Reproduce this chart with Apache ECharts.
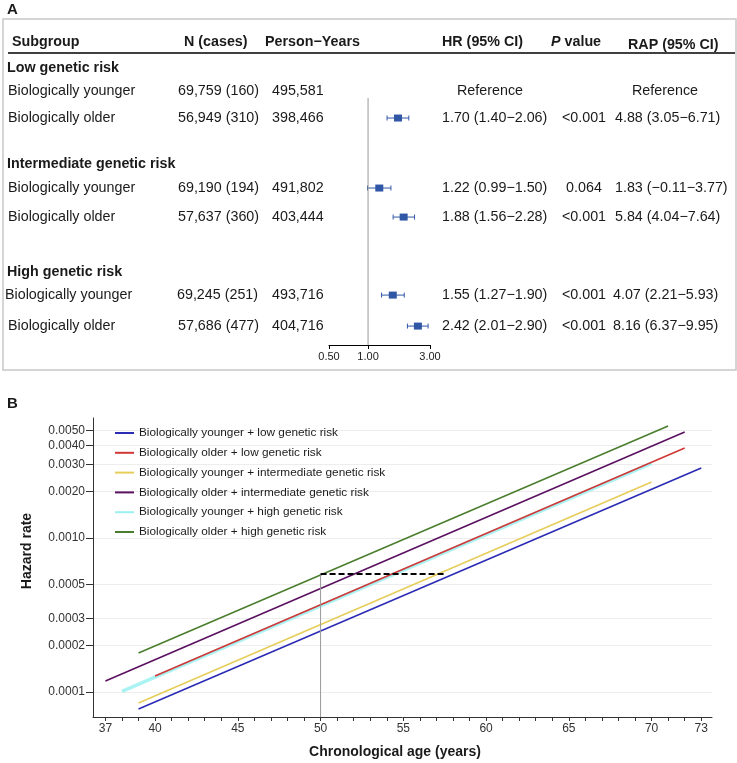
<!DOCTYPE html>
<html>
<head>
<meta charset="utf-8">
<script src="https://cdn.jsdelivr.net/npm/echarts@6/dist/echarts.min.js"></script>
<style>
html,body{margin:0;padding:0;background:#fff;}
#c{width:737px;height:763px;}
</style>
</head>
<body>
<div id="c"></div>
<script>
// ---------- Panel A data ----------
const groupNames = ['Low genetic risk', 'Intermediate genetic risk', 'High genetic risk'];
const rowLabels = ['Biologically younger', 'Biologically older', 'Biologically younger', 'Biologically older', 'Biologically younger', 'Biologically older'];
const nCases = ['69,759 (160)', '56,949 (310)', '69,190 (194)', '57,637 (360)', '69,245 (251)', '57,686 (477)'];
const personYears = ['495,581', '398,466', '491,802', '403,444', '493,716', '404,716'];
const hr = [null, 1.70, 1.22, 1.88, 1.55, 2.42];
const hrLow = [null, 1.40, 0.99, 1.56, 1.27, 2.01];
const hrHigh = [null, 2.06, 1.50, 2.28, 1.90, 2.90];
const pValues = ['', '<0.001', '0.064', '<0.001', '<0.001', '<0.001'];
const rap = [null, 4.88, 1.83, 5.84, 4.07, 8.16];
const rapLow = [null, 3.05, -0.11, 4.04, 2.21, 6.37];
const rapHigh = [null, 6.71, 3.77, 7.64, 5.93, 9.95];
const forestTicks = [0.5, 1, 3];

// ---------- Panel B data ----------
const seriesNames = [
  'Biologically younger + low genetic risk',
  'Biologically older + low genetic risk',
  'Biologically younger + intermediate genetic risk',
  'Biologically older + intermediate genetic risk',
  'Biologically younger + high genetic risk',
  'Biologically older + high genetic risk'
];
const ageStart = [39, 40, 39, 37, 38, 39];
const ageEnd = [73, 72, 70, 72, 70, 71];
const hazardStart = [7.76e-5, 1.27e-4, 8.49e-5, 1.18e-4, 1.01e-4, 1.79e-4];
const hazardEnd = [2.85e-3, 3.84e-3, 2.31e-3, 4.88e-3, 3.05e-3, 5.33e-3];
const refAge = 50;
const matchAge = 57.6;
const refHazard = 5.83e-4;
const yTickValues = [0.0001, 0.0002, 0.0003, 0.0005, 0.0010, 0.0020, 0.0030, 0.0040, 0.0050];
const xLabelValues = [37, 40, 45, 50, 55, 60, 65, 70, 73];

// ---------- layout / style ----------
const FONT = '"Liberation Sans", Arial, sans-serif';
const colors = ['#2b2bb5', '#d03838', '#e6cd5a', '#5a1160', '#9cf0f0', '#4b7d2e'];
const widths = [1.6, 1.6, 1.6, 1.6, 3.5, 1.6];
const yMinLog = -4.162, yMaxLog = -2.221;
const groupRowUnit = [1.0, 4.69, 8.85];
const dataRowUnit = [1.885, 2.923, 5.615, 6.731, 9.731, 10.923];
const rowIndent = [8, 8, 8, 8, 5, 8];
const colX = {sub: 8, n: 178, py: 272, hr: 442, p: 584, rap: 615, hrRef: 490, rapRef: 665};
const forestColor = '#3057a6';

const chart = echarts.init(document.getElementById('c'), null, {renderer: 'canvas'});

const lineSeries = seriesNames.map((name, i) => ({
  name: name,
  type: 'line',
  xAxisIndex: 0, yAxisIndex: 0,
  symbol: 'none',
  z: i === 4 ? 1 : 3,
  lineStyle: {color: colors[i], width: widths[i], opacity: i === 4 ? 0.85 : 1},
  itemStyle: {color: colors[i]},
  data: [[ageStart[i], Math.log10(hazardStart[i])], [ageEnd[i], Math.log10(hazardEnd[i])]]
}));

const forestData = [];
hr.forEach((v, i) => {
  if (v != null) forestData.push([Math.log(v), Math.log(hrLow[i]), Math.log(hrHigh[i]), dataRowUnit[i]]);
});

const fmtNum = v => (v < 0 ? '\u2212' + Math.abs(v).toFixed(2) : v.toFixed(2));
const ciText = (v, lo, hi) => fmtNum(v) + ' (' + fmtNum(lo) + '\u2212' + fmtNum(hi) + ')';

const option = {
  animation: false,
  backgroundColor: '#fff',
  textStyle: {fontFamily: FONT},
  legend: {
    data: seriesNames.map((n, i) => ({name: n, itemStyle: {color: colors[i]}})),
    orient: 'vertical',
    left: 110, top: 422,
    icon: 'rect',
    itemWidth: 19, itemHeight: 2, itemGap: 7.8,
    textStyle: {fontSize: 11.8, lineHeight: 12, color: '#1a1a1a', fontFamily: FONT}
  },
  grid: [
    {left: 93, right: 25, top: 418, bottom: 46},
    {left: 329, width: 101, top: 42, height: 303}
  ],
  xAxis: [
    {
      type: 'value', gridIndex: 0, min: 36.25, max: 73.65,
      axisLine: {onZero: false, lineStyle: {color: '#333', width: 1}},
      axisTick: {customValues: Array.from({length: 37}, (_, k) => 37 + k), length: 4, lineStyle: {color: '#333'}},
      axisLabel: {customValues: xLabelValues, fontSize: 12, color: '#333', margin: 6},
      splitLine: {show: false}
    },
    {
      type: 'value', gridIndex: 1, min: Math.log(0.5), max: Math.log(3),
      axisLine: {onZero: false, lineStyle: {color: '#000', width: 1}},
      axisTick: {customValues: forestTicks.map(Math.log), length: 4, lineStyle: {color: '#000'}},
      axisLabel: {customValues: forestTicks.map(Math.log), formatter: v => Math.exp(v).toFixed(2), fontSize: 11, color: '#222', margin: 6},
      splitLine: {show: false}
    }
  ],
  yAxis: [
    {
      type: 'value', gridIndex: 0, min: yMinLog, max: yMaxLog,
      axisLine: {show: true, onZero: false, lineStyle: {color: '#333', width: 1}},
      axisTick: {show: true, customValues: yTickValues.map(Math.log10), length: 7, lineStyle: {color: '#333'}},
      axisLabel: {customValues: yTickValues.map(Math.log10), formatter: v => Math.pow(10, v).toFixed(4), fontSize: 12, color: '#333', margin: 8},
      splitLine: {show: true, lineStyle: {color: '#ededed', width: 1}}
    },
    {
      type: 'value', gridIndex: 1, min: 0, max: 11.65, inverse: true, show: false
    }
  ],
  series: [
    ...lineSeries,
    {
      type: 'line', xAxisIndex: 0, yAxisIndex: 0, symbol: 'none', silent: true, z: 4,
      lineStyle: {color: '#999', width: 1},
      data: [[refAge, Math.log10(refHazard)], [refAge, yMinLog]]
    },
    {
      type: 'line', xAxisIndex: 0, yAxisIndex: 0, symbol: 'none', silent: true, z: 5,
      lineStyle: {color: '#000', width: 2, type: [6, 3]},
      data: [[refAge, Math.log10(refHazard)], [matchAge, Math.log10(refHazard)]]
    },
    {
      type: 'line', xAxisIndex: 1, yAxisIndex: 1, symbol: 'none', silent: true,
      lineStyle: {color: '#999', width: 1},
      data: [[0, 2.154], [0, 11.65]]
    },
    {
      type: 'custom', xAxisIndex: 1, yAxisIndex: 1, silent: true,
      data: forestData,
      renderItem: function (params, api) {
        const c = api.coord([api.value(0), api.value(3)]);
        const lo = api.coord([api.value(1), api.value(3)])[0];
        const hi = api.coord([api.value(2), api.value(3)])[0];
        const y = c[1];
        const st = {stroke: forestColor, lineWidth: 1};
        return {type: 'group', children: [
          {type: 'line', shape: {x1: lo, y1: y, x2: hi, y2: y}, style: st},
          {type: 'line', shape: {x1: lo, y1: y - 2.5, x2: lo, y2: y + 2.5}, style: st},
          {type: 'line', shape: {x1: hi, y1: y - 2.5, x2: hi, y2: y + 2.5}, style: st},
          {type: 'rect', shape: {x: c[0] - 4, y: y - 3.5, width: 8, height: 7}, style: {fill: forestColor}}
        ]};
      }
    }
  ]
};
chart.setOption(option);

// ---------- table text ----------
const toY = u => chart.convertToPixel({yAxisIndex: 1}, u);
const REG = '14.3px ' + FONT;
const T = (text, x, y, opts) => Object.assign({
  type: 'text', silent: true,
  style: Object.assign({text: text, x: x, y: y, fill: '#1a1a1a', font: REG, textAlign: 'left', textVerticalAlign: 'middle'}, opts || {})
});
const g = [];
g.push(T('A', 7, 10, {font: 'bold 15px ' + FONT}));
g.push(T('B', 7, 404, {font: 'bold 15px ' + FONT}));
g.push({type: 'rect', silent: true, shape: {x: 3, y: 19, width: 733, height: 351}, style: {fill: 'none', stroke: '#c8c8c8', lineWidth: 1.5}});
g.push({type: 'line', silent: true, shape: {x1: 8, y1: 53, x2: 735, y2: 53}, style: {stroke: '#000', lineWidth: 1.5}});
const hdrY = toY(0);
const bold = 'bold 14.3px ' + FONT;
g.push(T('Subgroup', 12, hdrY, {font: bold}));
g.push(T('N (cases)', 184, hdrY, {font: bold}));
g.push(T('Person\u2212Years', 265, hdrY, {font: bold}));
g.push(T('HR (95% CI)', 442, hdrY, {font: bold}));
g.push({type: 'text', silent: true, style: {
  text: '{i|P} value', x: 551, y: hdrY, textAlign: 'left', textVerticalAlign: 'middle', fill: '#1a1a1a', font: bold,
  rich: {i: {fontStyle: 'italic', fontWeight: 'bold', fontSize: 14.3, fontFamily: FONT, fill: '#1a1a1a'}}
}});
g.push(T('RAP (95% CI)', 628, hdrY + 3, {font: bold}));
groupNames.forEach((name, k) => g.push(T(name, 7, toY(groupRowUnit[k]), {font: bold})));
rowLabels.forEach((lab, i) => {
  const y = toY(dataRowUnit[i]);
  g.push(T(lab, rowIndent[i], y));
  g.push(T(nCases[i], colX.n - (i === 4 ? 1 : 0), y));
  g.push(T(personYears[i], colX.py, y));
  if (hr[i] == null) {
    g.push(T('Reference', colX.hrRef, y, {textAlign: 'center'}));
    g.push(T('Reference', colX.rapRef, y, {textAlign: 'center'}));
  } else {
    g.push(T(ciText(hr[i], hrLow[i], hrHigh[i]), colX.hr, y));
    g.push(T(pValues[i], colX.p, y, {textAlign: 'center'}));
    g.push(T(ciText(rap[i], rapLow[i], rapHigh[i]), colX.rap - (i >= 4 ? 2 : 0), y));
  }
});
g.push({type: 'text', silent: true, x: 27, y: 551, rotation: Math.PI / 2,
  style: {text: 'Hazard rate', x: 0, y: 0, textAlign: 'center', textVerticalAlign: 'middle', fill: '#1a1a1a', font: 'bold 14px ' + FONT}});
g.push(T('Chronological age (years)', 395, 752, {textAlign: 'center', font: 'bold 14px ' + FONT}));
chart.setOption({graphic: g});
</script>
</body>
</html>
